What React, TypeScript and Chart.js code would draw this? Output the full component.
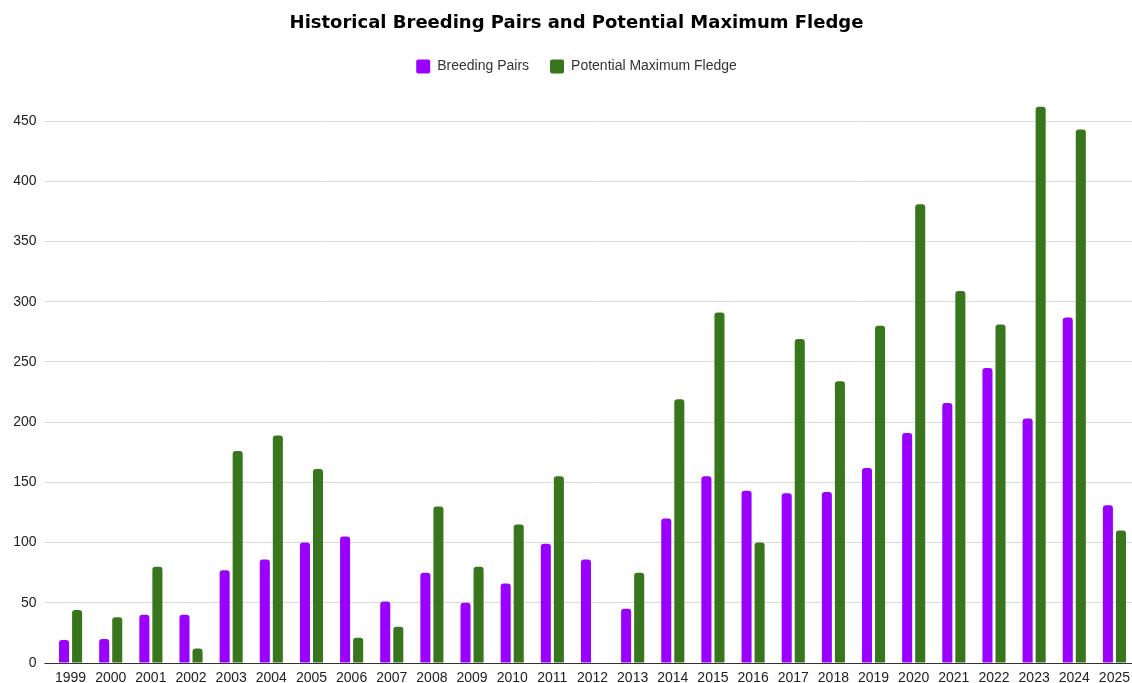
import React, { useEffect, useRef } from "react";
import { Chart, registerables } from "chart.js";

Chart.register(...registerables);

const years = [
  "1999", "2000", "2001", "2002", "2003", "2004", "2005", "2006", "2007",
  "2008", "2009", "2010", "2011", "2012", "2013", "2014", "2015", "2016",
  "2017", "2018", "2019", "2020", "2021", "2022", "2023", "2024", "2025",
];

const breedingPairs = [
  19, 20, 40, 40, 77, 86, 100, 105, 51,
  75, 50, 66, 99, 86, 45, 120, 155, 143,
  141, 142, 162, 191, 216, 245, 203, 287, 131,
];

const potentialMaxFledge = [
  44, 38, 80, 12, 176, 189, 161, 21, 30,
  130, 80, 115, 155, 0, 75, 219, 291, 100,
  269, 234, 280, 381, 309, 281, 462, 443, 110,
];

const yTickStep = 50;
const yMax = 475;

const titleText = "Historical Breeding Pairs and Potential Maximum Fledge";

const legendSpacer = {
  id: "legendSpacer",
  beforeLayout(chart: any) {
    const lg = chart.legend;
    if (lg && !lg.__patched) {
      const orig = lg.fit.bind(lg);
      lg.fit = function () {
        orig();
        this.height += 7.5;
      };
      lg.__patched = true;
    }
  },
};

export default function App() {
  const canvasRef = useRef<HTMLCanvasElement | null>(null);

  useEffect(() => {
    const canvas = canvasRef.current;
    if (!canvas) return;
    const chart = new Chart(canvas, {
      type: "bar",
      data: {
        labels: years,
        datasets: [
          {
            label: "Breeding Pairs",
            data: breedingPairs,
            backgroundColor: "#9900ff",
            borderWidth: 0,
            borderRadius: 3,
            categoryPercentage: 0.65,
            barPercentage: 0.77,
          },
          {
            label: "Potential Maximum Fledge",
            data: potentialMaxFledge,
            backgroundColor: "#38761d",
            borderWidth: 0,
            borderRadius: 3,
            categoryPercentage: 0.65,
            barPercentage: 0.77,
          },
        ],
      },
      plugins: [legendSpacer],
      options: {
        responsive: false,
        animation: false,
        devicePixelRatio: 1,
        layout: { padding: { top: 13, left: 0, right: 0, bottom: 0 } },
        plugins: {
          title: {
            display: true,
            text: titleText,
            color: "#000",
            font: { family: "'DejaVu Sans', sans-serif", size: 18, weight: "bold" },
            padding: { top: 0, bottom: 3.9 },
          },
          legend: {
            display: true,
            position: "top",
            labels: {
              boxWidth: 14,
              boxHeight: 14,
              padding: 21,
              color: "#333",
              font: { family: "'Liberation Sans', Arial, sans-serif", size: 14 },
              useBorderRadius: true,
              borderRadius: 2,
            },
          },
          tooltip: { enabled: false },
        },
        scales: {
          x: {
            grid: { display: false, drawTicks: false },
            border: { display: true, color: "#333", width: 1 },
            ticks: {
              color: "#222",
              font: { family: "'Liberation Sans', Arial, sans-serif", size: 14 },
              padding: 7,
              maxRotation: 0,
              autoSkip: false,
            },
            afterFit: (scale: any) => {
              scale.height = 20;
            },
          },
          y: {
            min: 0,
            max: yMax,
            border: { display: false },
            grid: {
              color: (ctx: any) => (ctx.tick && ctx.tick.value === 0 ? "#333" : "#d9d9d9"),
              drawTicks: true,
              tickLength: 6,
            },
            ticks: {
              stepSize: yTickStep,
              color: "#222",
              font: { family: "'Liberation Sans', Arial, sans-serif", size: 14 },
              padding: 8,
            },
            afterBuildTicks: (scale: any) => {
              scale.ticks = scale.ticks.filter((t: any) => t.value % yTickStep === 0);
            },
            afterFit: (scale: any) => {
              scale.width = 50.5;
            },
          },
          yRight: {
            position: "right",
            min: 0,
            max: 1,
            border: { display: false },
            grid: { display: false, drawTicks: false },
            ticks: { display: false },
            afterFit: (scale: any) => {
              scale.width = 18.5;
            },
          },
        },
      },
    });
    return () => chart.destroy();
  }, []);

  return (
    <div
      style={{
        position: "fixed",
        left: 0,
        top: 0,
        width: 1132,
        height: 683,
        overflow: "hidden",
        background: "#fff",
      }}
    >
      <canvas ref={canvasRef} width={1153} height={683} style={{ display: "block" }} />
    </div>
  );
}
